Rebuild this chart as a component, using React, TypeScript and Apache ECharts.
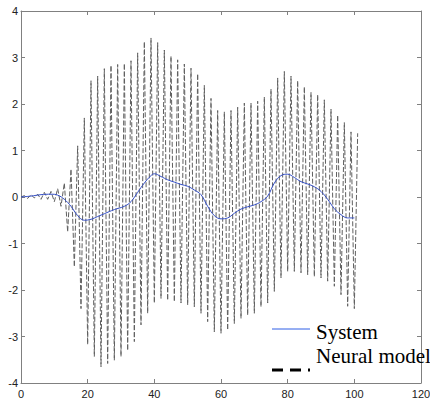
import React, { useEffect, useRef } from "react";
import * as echarts from "echarts";

const xTickValues = [0, 20, 40, 60, 80, 100, 120];
const yTickValues = [-4, -3, -2, -1, 0, 1, 2, 3, 4];

const systemX = [0, 3, 6, 9, 11, 13, 15, 17, 19, 21, 23, 25, 28, 31, 33, 35, 37, 39, 40, 42, 44, 46, 48, 50, 52, 54, 56, 58, 60, 62, 64, 66, 68, 70, 72, 74, 76, 78, 80, 82, 84, 86, 88, 90, 92, 94, 96, 98, 100];
const systemY = [0, 0.02, 0.05, 0.06, 0.04, -0.05, -0.2, -0.4, -0.5, -0.48, -0.42, -0.36, -0.27, -0.2, -0.1, 0.1, 0.3, 0.46, 0.5, 0.44, 0.37, 0.32, 0.27, 0.23, 0.15, 0.05, -0.2, -0.4, -0.47, -0.45, -0.35, -0.26, -0.21, -0.17, -0.1, 0.02, 0.3, 0.46, 0.49, 0.42, 0.33, 0.28, 0.22, 0.12, -0.05, -0.25, -0.38, -0.45, -0.45];

// neural model output, one value per sample k = 0..101
const neuralY = [
  0, 0.03, -0.03, 0.05, -0.02, 0.06, -0.05, 0.1, -0.05, 0.12,
  -0.1, 0.18, -0.2, 0.3, -0.75, 0.6, -1.5, 1.1, -2.4, 1.7,
  -3.17, 2.5, -3.43, 2.6, -3.65, 2.76, -3.58, 2.83, -3.51, 2.85,
  -3.43, 2.87, -3.3, 2.93, -3.11, 3.1, -2.75, 3.34, -2.5, 3.42,
  -2.28, 3.32, -2.18, 3.16, -2.22, 3.03, -2.25, 2.95, -2.28, 2.86,
  -2.32, 2.77, -2.36, 2.65, -2.5, 2.4, -2.68, 2.12, -2.9, 1.86,
  -2.93, 1.83, -2.86, 1.86, -2.72, 1.93, -2.61, 2.02, -2.54, 2.02,
  -2.5, 2.06, -2.36, 2.15, -2.28, 2.32, -2.03, 2.56, -1.74, 2.7,
  -1.6, 2.6, -1.6, 2.5, -1.63, 2.37, -1.67, 2.25, -1.71, 2.2,
  -1.74, 2.09, -1.81, 1.89, -1.92, 1.76, -2.1, 1.6, -2.35, 1.4,
  -2.4, 1.37,
];

const legendNames = ["System", "Neural model"];

export default function App() {
  const ref = useRef<HTMLDivElement>(null);

  useEffect(() => {
    if (!ref.current) return;
    const chart = echarts.init(ref.current, null, { renderer: "svg" });
    const axisColor = "#808080";
    const labelStyle = { fontFamily: "Liberation Sans", fontSize: 11, color: "#222" };
    const xBase = {
      type: "value" as const,
      min: xTickValues[0],
      max: xTickValues[xTickValues.length - 1],
      interval: 20,
      axisLine: { show: true, onZero: false, lineStyle: { color: axisColor, width: 1 } },
      axisTick: { show: true, inside: true, length: 4, lineStyle: { color: axisColor } },
      splitLine: { show: false },
    };
    const yBase = {
      type: "value" as const,
      min: yTickValues[0],
      max: yTickValues[yTickValues.length - 1],
      interval: 1,
      axisLine: { show: true, onZero: false, lineStyle: { color: axisColor, width: 1 } },
      axisTick: { show: true, inside: true, length: 4, lineStyle: { color: axisColor } },
      splitLine: { show: false },
    };
    chart.setOption({
      animation: false,
      backgroundColor: "#fff",
      grid: { left: 21, right: 9, top: 11, bottom: 16, outerBoundsMode: "none", containLabel: false },
      xAxis: [
        { ...xBase, position: "bottom", axisLabel: { ...labelStyle, margin: 5 } },
        { ...xBase, position: "top", axisLabel: { show: false } },
      ],
      yAxis: [
        { ...yBase, position: "left", axisLabel: { ...labelStyle, margin: 3 } },
        { ...yBase, position: "right", axisLabel: { show: false } },
      ],
      series: [
        {
          name: legendNames[1],
          type: "line",
          xAxisIndex: 0,
          yAxisIndex: 0,
          data: neuralY.map((v, i) => [i, v]),
          symbol: "none",
          lineStyle: { color: "#606060", width: 1, type: [5, 2] },
          z: 2,
        },
        {
          name: legendNames[0],
          type: "line",
          xAxisIndex: 0,
          yAxisIndex: 0,
          data: systemX.map((x, i) => [x, systemY[i]]),
          symbol: "none",
          smooth: 0.4,
          lineStyle: { color: "#3550c8", width: 1 },
          z: 3,
        },
      ],
      graphic: [
        { type: "line", shape: { x1: 272, y1: 329, x2: 310, y2: 329 }, style: { stroke: "#2f5fe6", lineWidth: 1 }, z: 10 },
        { type: "text", x: 316, y: 332, style: { text: legendNames[0], font: "21px 'Liberation Serif'", fill: "#000", verticalAlign: "middle" }, z: 10 },
        { type: "text", x: 316, y: 356, style: { text: legendNames[1], font: "21px 'Liberation Serif'", fill: "#000", verticalAlign: "middle" }, z: 10 },
        { type: "line", shape: { x1: 272, y1: 370, x2: 310, y2: 370 }, style: { stroke: "#000", lineWidth: 3, lineDash: [11, 7] }, z: 10 },
      ],
    });
    return () => chart.dispose();
  }, []);

  return <div ref={ref} style={{ position: "fixed", left: 0, top: 0, width: 430, height: 399 }} />;
}
